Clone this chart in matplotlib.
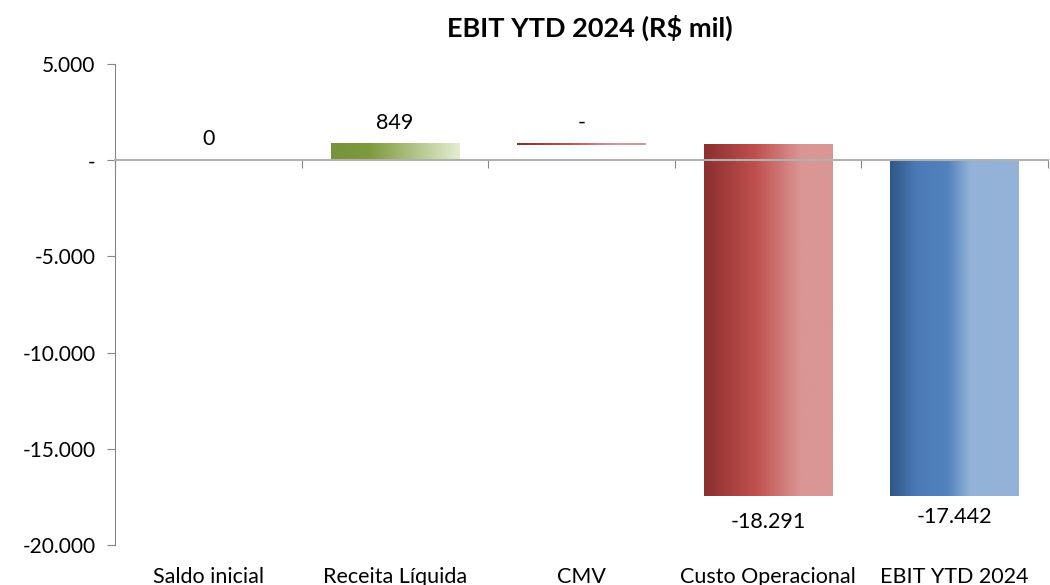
import numpy as np
import matplotlib.pyplot as plt
from matplotlib.colors import LinearSegmentedColormap

plt.rcParams['font.family'] = ['Lato', 'DejaVu Sans']

# data (R$ mil)
categories = ['Saldo inicial', 'Receita Líquida', 'CMV', 'Custo Operacional', 'EBIT YTD 2024']
changes = [0, 849, 0, -18291, -17442]
labels = ['0', '849', '-', '-18.291', '-17.442']
yticks = [5000, 0, -5000, -10000, -15000, -20000]
ytick_labels = ['5.000', '-', '-5.000', '-10.000', '-15.000', '-20.000']

# waterfall bottoms: first and last start at zero, others float on the running total
bottoms = []
running = 0
for i, c in enumerate(changes):
    if i == 0 or i == len(changes) - 1:
        bottoms.append(0)
    else:
        bottoms.append(running)
    running = changes[0] if i == 0 else running + c if i < len(changes) - 1 else running

green = LinearSegmentedColormap.from_list('g', [(0, '#76923c'), (0.3, '#7f9a3e'), (1, '#e4edd2')])
red = LinearSegmentedColormap.from_list('r', [(0, '#8a2f2f'), (0.4, '#c0504d'), (0.75, '#d99694'), (1, '#d99694')])
blue = LinearSegmentedColormap.from_list('b', [(0, '#2f5687'), (0.2, '#4a7ab5'), (0.45, '#5383bd'), (0.62, '#93b2d7'), (1, '#95b3d7')])
cmaps = [None, green, red, red, blue]

fig = plt.figure(figsize=(10.5, 5.85), dpi=100)
ax = fig.add_axes([115 / 1050, 1 - 545 / 585, 933 / 1050, 481 / 585])

x = np.arange(len(categories))
width = 0.69
grad = np.linspace(0, 1, 256).reshape(1, -1)
for i in range(len(categories)):
    lo = bottoms[i]
    hi = bottoms[i] + changes[i]
    y0, y1 = min(lo, hi), max(lo, hi)
    if categories[i] == 'CMV':
        # zero change: draw a thin line at the running total
        ax.imshow(grad, cmap=cmaps[i], extent=(x[i] - width / 2, x[i] + width / 2, lo - 50, lo + 50),
                  aspect='auto', zorder=2)
        continue
    if y1 - y0 == 0:
        continue
    ax.imshow(grad, cmap=cmaps[i], extent=(x[i] - width / 2, x[i] + width / 2, y0, y1),
              aspect='auto', zorder=2)

# data labels
for i in range(len(categories)):
    lo = bottoms[i]
    hi = bottoms[i] + changes[i]
    if changes[i] < 0:
        off = -12 if i == 3 else -8
        ax.annotate(labels[i], (x[i], min(lo, hi)), xytext=(0, off), textcoords='offset points',
                    ha='center', va='top', fontsize=15.5)
    else:
        ax.annotate(labels[i], (x[i], max(lo, hi)), xytext=(0, 8), textcoords='offset points',
                    ha='center', va='bottom', fontsize=15.5)

ax.set_xlim(-0.5, len(categories) - 0.5)
ax.set_ylim(-20000, 5000)

ax.spines['top'].set_visible(False)
ax.spines['right'].set_visible(False)
ax.spines['bottom'].set_position(('data', 0))
ax.spines['bottom'].set_color('#b0b0b0')
ax.spines['bottom'].set_linewidth(1.5)
ax.spines['bottom'].set_zorder(3)
ax.spines['left'].set_color('#868686')

ax.set_yticks(yticks)
ax.set_yticklabels(ytick_labels, fontsize=15)
ax.tick_params(axis='y', direction='out', length=6, color='#868686', pad=8)

ax.set_xticks(np.arange(len(categories) + 1) - 0.5)
ax.set_xticklabels([])
ax.tick_params(axis='x', direction='out', length=6, color='#868686')

for i, c in enumerate(categories):
    ax.annotate(c, (x[i], -20000), xytext=(0, -16), textcoords='offset points',
                ha='center', va='top', fontsize=15.5)

fig.text(590 / 1050, 1 - 28 / 585, 'EBIT YTD 2024 (R$ mil)', ha='center', va='center',
         fontsize=19.5, fontweight='bold')

fig.savefig('out.png', dpi=100)
